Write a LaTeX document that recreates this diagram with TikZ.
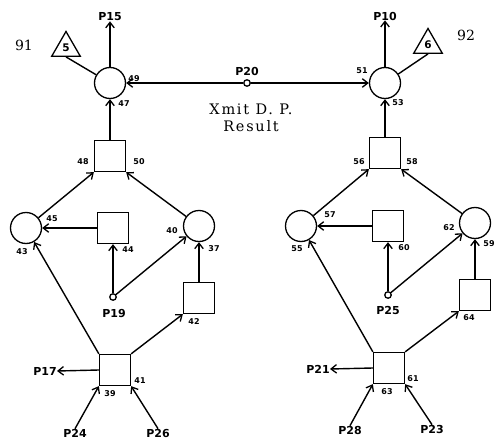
\documentclass[tikz,border=0pt]{standalone}
\usepackage{fontspec}
\setmainfont{DejaVu Serif}
\newfontfamily\lblfont{DejaVu Sans}
\usetikzlibrary{arrows.meta,shapes.geometric,calc}
\begin{document}
\begin{tikzpicture}[x=1pt,y=1pt,
  every node/.style={inner sep=0pt},
  ln/.style={line width=1.4pt},
  arr/.style={ln,-{Straight Barb[length=5.5pt,width=8.5pt,line width=1.3pt]}},
  bigc/.style={circle,draw,line width=1.3pt,minimum size=31pt},
  boxn/.style={rectangle,draw,line width=1.3pt,minimum size=31pt},
  smallc/.style={circle,draw,line width=1.3pt,minimum size=6.5pt},
  tri/.style={regular polygon,regular polygon sides=3,draw,line width=1.3pt,minimum size=33pt,font=\lblfont\bfseries\fontsize{10.5}{10}\selectfont},
  plab/.style={font=\lblfont\bfseries\fontsize{11}{12}\selectfont},
  num/.style={font=\lblfont\bfseries\fontsize{8}{8}\selectfont},
  ser/.style={font=\addfontfeature{LetterSpace=12}\fontsize{14.5}{17.5}\selectfont},
  tag/.style={font=\fontsize{14}{16}\selectfont}]
\useasboundingbox (0,0) rectangle (497,-441);

% ---------- left half ----------
\node[bigc] (c49) at (110,-83) {};
\node[tri]  (t5)  at (66,-48) {5};
\node[tag]  (l91) at (24,-45) {91};
\node[plab] (lp15) at (110,-17) {P15};
\node[boxn] (b48) at (110,-156) {};
\node[bigc] (c43) at (26,-228) {};
\node[boxn] (b44) at (113,-228) {};
\node[bigc] (c40) at (199,-226) {};
\node[smallc] (p19) at (113,-297) {};
\node[plab] (lp19) at (114,-313) {P19};
\node[boxn] (b42) at (199,-298) {};
\node[boxn] (b39) at (115,-370) {};
\node[plab,anchor=east] (lp17) at (57,-371) {P17};
\node[plab] (lp24) at (75,-433) {P24};
\node[plab] (lp26) at (158,-433) {P26};

% ---------- centre ----------
\node[smallc] (p20) at (247,-83) {};
\node[plab] (lp20) at (247,-71) {P20};
\node[ser,align=center] (xmit) at (251,-118) {Xmit D. P.\\Result};

% ---------- right half ----------
\node[bigc] (c51) at (385,-83) {};
\node[tri]  (t6)  at (428,-45) {6};
\node[tag]  (l92) at (466,-35) {92};
\node[plab] (lp10) at (385,-16) {P10};
\node[boxn] (b56) at (385,-153) {};
\node[bigc] (c55) at (301,-226) {};
\node[boxn] (b60) at (388,-226) {};
\node[bigc] (c62) at (475,-223) {};
\node[smallc] (p25) at (388,-295) {};
\node[plab] (lp25) at (388,-310) {P25};
\node[boxn] (b64) at (475,-295) {};
\node[boxn] (b61) at (389,-368) {};
\node[plab,anchor=east] (lp21) at (330,-369) {P21};
\node[plab] (lp28) at (350,-430) {P28};
\node[plab] (lp23) at (432,-429) {P23};

% ---------- connectors left ----------
\draw[arr] (c49.north) -- (lp15.south);
\draw[ln] (t5.south) -- (c49);
\draw[arr] (b48.north) -- (c49.south);
\draw[arr] (c43) -- (b48.south west);
\draw[arr] (c40) -- (b48.south east);
\draw[arr] (b44.west) -- (c43.east);
\draw[arr] (p19) -- (b44.south);
\draw[arr] (p19) -- (c40);
\draw[arr] (b42.north) -- (c40.south);
\draw[arr] (b39.north west) -- (c43);
\draw[arr] (b39.north east) -- (b42.south west);
\draw[arr] (b39.west) -- (lp17.east);
\draw[arr] (lp24.north) -- (b39.south west);
\draw[arr] (lp26.north) -- (b39.south east);

% ---------- connectors centre ----------
\draw[arr] (p20) -- (c49.east);
\draw[arr] (p20) -- (c51.west);

% ---------- connectors right ----------
\draw[arr] (c51.north) -- (lp10.south);
\draw[ln] (t6.south) -- (c51);
\draw[arr] (b56.north) -- (c51.south);
\draw[arr] (c55) -- (b56.south west);
\draw[arr] (c62) -- (b56.south east);
\draw[arr] (b60.west) -- (c55.east);
\draw[arr] (p25) -- (b60.south);
\draw[arr] (p25) -- (c62);
\draw[arr] (b64.north) -- (c62.south);
\draw[arr] (b61.north west) -- (c55);
\draw[arr] (b61.north east) -- (b64.south west);
\draw[arr] (b61.west) -- (lp21.east);
\draw[arr] (lp28.north) -- (b61.south west);
\draw[arr] (lp23.north) -- (b61.south east);

% ---------- small numbers ----------
\node[num] (n49) at (134,-79) {49};
\node[num] (n47) at (124,-104) {47};
\node[num] (n48) at (83,-162) {48};
\node[num] (n50) at (139,-162) {50};
\node[num] (n45) at (52,-219) {45};
\node[num] (n43) at (22,-252) {43};
\node[num] (n44) at (128,-250) {44};
\node[num] (n40) at (172,-231) {40};
\node[num] (n37) at (214,-249) {37};
\node[num] (n42) at (194,-322) {42};
\node[num] (n41) at (140,-381) {41};
\node[num] (n39) at (110,-394) {39};
\node[num] (n51) at (362,-71) {51};
\node[num] (n53) at (398,-103) {53};
\node[num] (n56) at (359,-162) {56};
\node[num] (n58) at (412,-162) {58};
\node[num] (n57) at (330,-215) {57};
\node[num] (n55) at (297,-249) {55};
\node[num] (n60) at (404,-248) {60};
\node[num] (n62) at (449,-228) {62};
\node[num] (n59) at (489,-244) {59};
\node[num] (n64) at (469,-318) {64};
\node[num] (n61) at (413,-379) {61};
\node[num] (n63) at (387,-392) {63};
\end{tikzpicture}
\end{document}
